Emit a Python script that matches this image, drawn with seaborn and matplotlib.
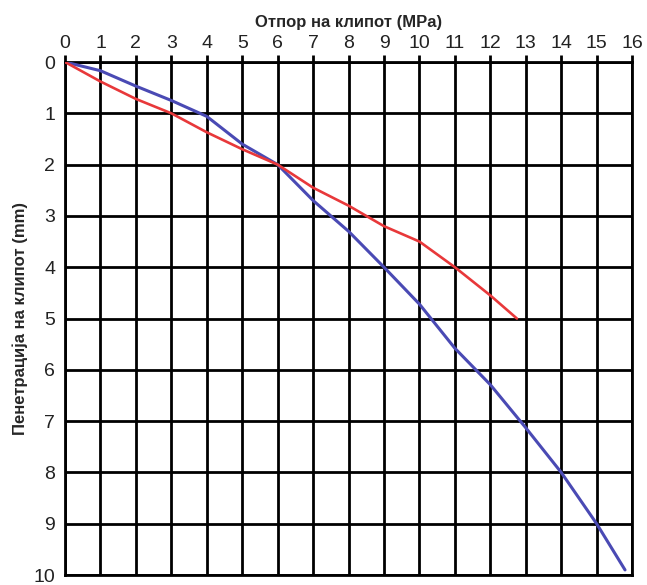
import numpy as np
import pandas as pd
import seaborn as sns
import matplotlib.pyplot as plt

# resistance (MPa) vs penetration (mm)
blue_x = [0, 1, 2, 3, 4, 5, 6, 7, 8, 9, 10, 11, 12, 13, 14, 15, 15.8]
blue_y = [0, 0.17, 0.47, 0.75, 1.06, 1.6, 2.0, 2.7, 3.3, 4.0, 4.72, 5.58, 6.29, 7.13, 8.0, 9.0, 9.9]

red_x = [0, 1, 2, 3, 4, 5, 6, 7, 8, 9, 10, 11, 12, 12.75]
red_y = [0, 0.38, 0.72, 1.0, 1.37, 1.7, 2.0, 2.45, 2.8, 3.2, 3.5, 4.0, 4.55, 5.0]

x_ticks = list(range(0, 17))
y_ticks = list(range(0, 11))

sns.set_style("white")
plt.rcParams['font.family'] = ['Liberation Sans', 'DejaVu Sans']

df_blue = pd.DataFrame({'otpor': blue_x, 'pen': blue_y})
df_red = pd.DataFrame({'otpor': red_x, 'pen': red_y})

fig = plt.figure(figsize=(6.47, 5.85), dpi=100)
ax = fig.add_axes([0.1005, 0.017, 0.8765, 0.877])

sns.lineplot(data=df_blue, x='otpor', y='pen', sort=False, color='#4a4ab4', lw=2.2, ax=ax, zorder=3)
sns.lineplot(data=df_red, x='otpor', y='pen', sort=False, color='#e8383a', lw=1.9, ax=ax, zorder=3)

ax.set_xlim(0, 16)
ax.set_ylim(10, 0)
ax.set_xticks(x_ticks)
ax.set_yticks(y_ticks)
ax.xaxis.tick_top()
ax.xaxis.set_label_position('top')
ax.grid(True, color='black', lw=2)
for s in ax.spines.values():
    s.set_color('black')
    s.set_linewidth(2)
ax.tick_params(axis='both', colors='#222222', labelsize=14, length=5, width=2, pad=2)
ax.tick_params(axis='both', color='black')
for lab in ax.get_xticklabels() + ax.get_yticklabels():
    lab.set_family(['Liberation Sans Narrow', 'Liberation Sans'])

ax.set_xlabel('Отпор на клипот (MPa)', fontsize=12, fontweight='bold', labelpad=6)
ax.set_ylabel('Пенетрација на клипот (mm)', fontsize=12, fontweight='bold', labelpad=4)

plt.savefig('out.png', dpi=100)
